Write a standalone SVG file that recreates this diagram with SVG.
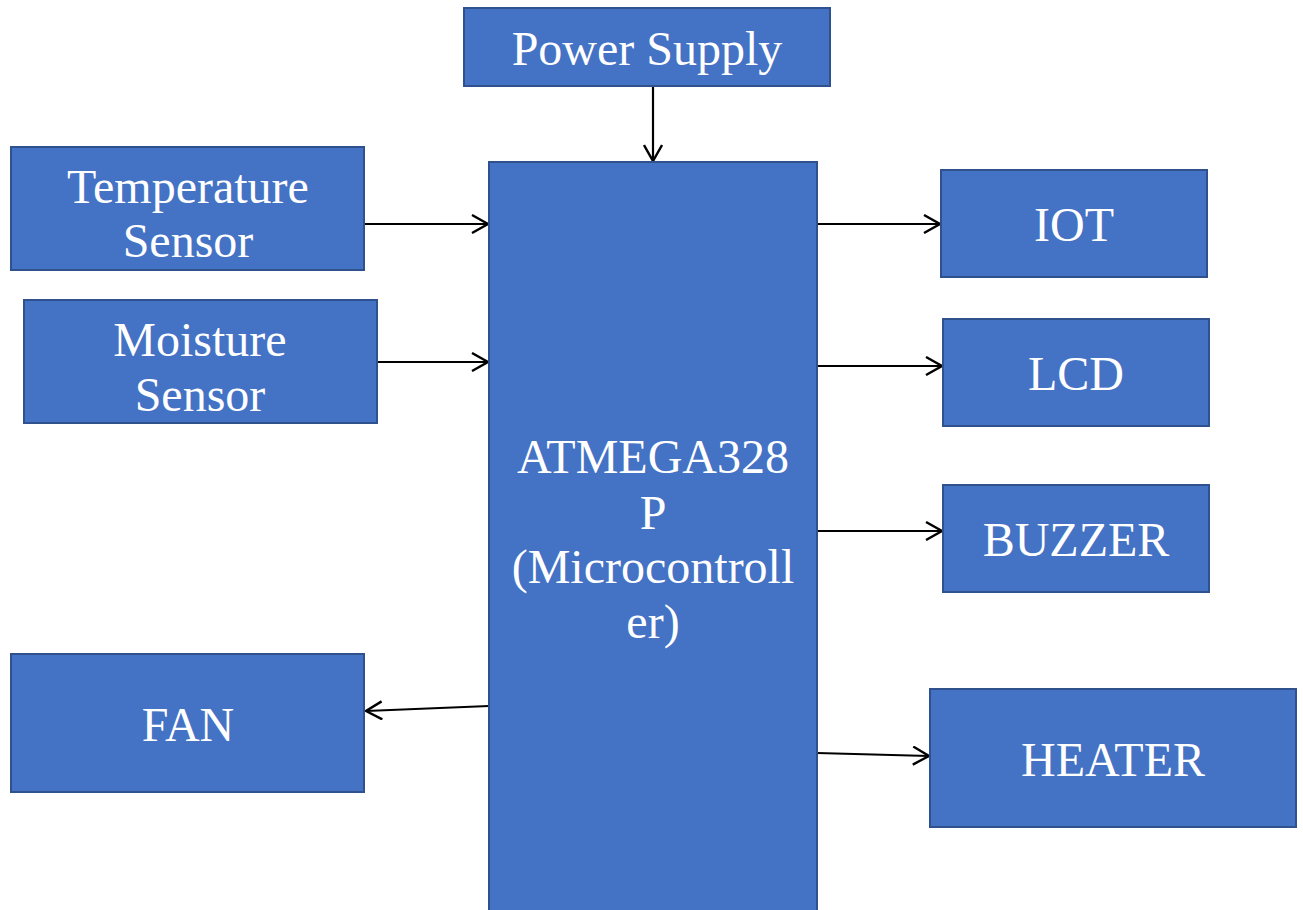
<svg xmlns="http://www.w3.org/2000/svg" width="1303" height="910" viewBox="0 0 1303 910">
<defs>
<style>
.box{fill:#4472C4;stroke:#2F528F;stroke-width:2}
.lbl{font-family:"Liberation Serif","Times New Roman",serif;font-size:48px;fill:#fff;text-anchor:middle}
.conn{stroke:#000;stroke-width:2.2;fill:none;marker-end:url(#arr)}
</style>
<marker id="arr" viewBox="0 0 20 20" refX="18" refY="10" markerWidth="20" markerHeight="20" markerUnits="userSpaceOnUse" orient="auto">
<path d="M2,1 L18,10 L2,19" fill="none" stroke="#000" stroke-width="2.4"/>
</marker>
</defs>
<rect width="1303" height="910" fill="#fff"/>
<g id="connectors">
<line class="conn" x1="653" y1="86" x2="653" y2="161"/>
<line class="conn" x1="364" y1="224" x2="488" y2="224"/>
<line class="conn" x1="377" y1="362" x2="488" y2="362"/>
<line class="conn" x1="817" y1="224" x2="940" y2="224"/>
<line class="conn" x1="817" y1="366" x2="942" y2="366"/>
<line class="conn" x1="817" y1="531" x2="942" y2="531"/>
<line class="conn" x1="817" y1="753" x2="929" y2="756"/>
<line class="conn" x1="489" y1="706" x2="366" y2="711"/>
</g>
<g id="power">
<rect class="box" x="464" y="8" width="366" height="78"/>
<text class="lbl" x="647" y="65">Power Supply</text>
</g>
<g id="temp">
<rect class="box" x="11" y="147" width="353" height="123"/>
<text class="lbl" x="188" y="203">Temperature</text>
<text class="lbl" x="188" y="257">Sensor</text>
</g>
<g id="moisture">
<rect class="box" x="24" y="300" width="353" height="123"/>
<text class="lbl" x="200" y="356">Moisture</text>
<text class="lbl" x="200" y="411">Sensor</text>
</g>
<g id="mcu">
<rect class="box" x="489" y="162" width="328" height="760"/>
<text class="lbl" x="653" y="473">ATMEGA328</text>
<text class="lbl" x="653" y="529">P</text>
<text class="lbl" x="653" y="583">(Microcontroll</text>
<text class="lbl" x="653" y="638">er)</text>
</g>
<g id="iot">
<rect class="box" x="941" y="170" width="266" height="107"/>
<text class="lbl" x="1074" y="241">IOT</text>
</g>
<g id="lcd">
<rect class="box" x="943" y="319" width="266" height="107"/>
<text class="lbl" x="1076" y="390">LCD</text>
</g>
<g id="buzzer">
<rect class="box" x="943" y="485" width="266" height="107"/>
<text class="lbl" x="1076" y="556">BUZZER</text>
</g>
<g id="heater">
<rect class="box" x="930" y="689" width="366" height="138"/>
<text class="lbl" x="1113" y="776">HEATER</text>
</g>
<g id="fan">
<rect class="box" x="11" y="654" width="353" height="138"/>
<text class="lbl" x="188" y="741">FAN</text>
</g>
</svg>
